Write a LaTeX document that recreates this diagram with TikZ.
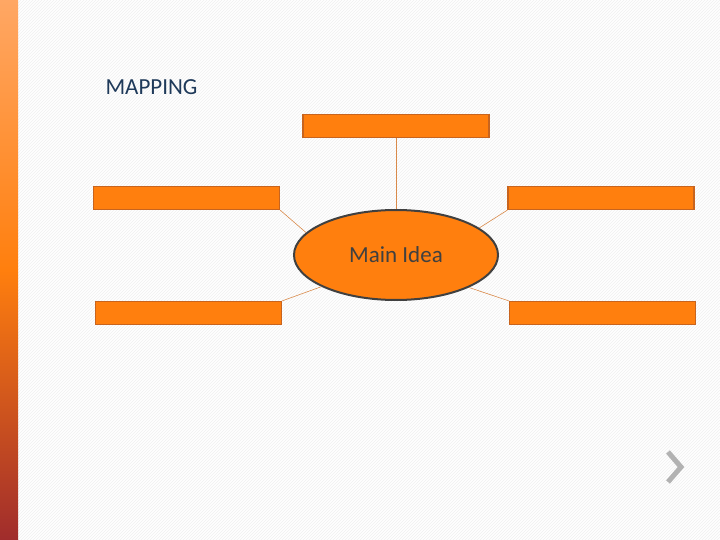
\documentclass[tikz,border=0pt]{standalone}
\usepackage{fontspec}
\setmainfont{Carlito}
\usetikzlibrary{shapes.geometric,patterns}
\definecolor{org}{HTML}{FF7F0E}
\definecolor{orgline}{HTML}{C8641E}
\definecolor{conn}{HTML}{D98A4A}
\definecolor{ttl}{HTML}{1F3A5A}
\definecolor{dk}{HTML}{404040}
\definecolor{bartop}{HTML}{FFA764}
\definecolor{barmid}{HTML}{FF7F0E}
\definecolor{barbot}{HTML}{A02C2C}
\tikzset{
  bar/.style={draw=orgline, line width=1.2pt, fill=org, minimum width=186pt, minimum height=23pt, inner sep=0pt},
  link/.style={draw=conn, line width=0.6pt}
}
\begin{document}
\begin{tikzpicture}[x=1pt,y=-1pt]
\useasboundingbox (0,0) rectangle (720,540);
\fill[white] (0,0) rectangle (720,540);
\fill[pattern=north east lines, pattern color=gray!12] (18,0) rectangle (720,540);
\shade[top color=bartop, bottom color=barbot, middle color=barmid] (0,0) rectangle (18,540);
\node[anchor=west, text=ttl, font=\fontsize{23}{26}\selectfont] (title) at (102,87) {MAPPING};
\node[bar] (t) at (396,126) {};
\node[bar] (lu) at (186.5,198) {};
\node[bar] (ru) at (601,198) {};
\node[bar] (ll) at (188.5,313) {};
\node[bar] (rl) at (602.5,313) {};
\node[ellipse, draw=dk, line width=2pt, fill=org, minimum width=204pt, minimum height=90pt, inner sep=0pt, text=dk, font=\fontsize{23}{26}\selectfont] (m) at (396,255) {Main Idea};
\draw[link] (t.south) -- (m.north);
\draw[link] (lu.south east) -- (m.166);
\draw[link] (ru.south west) -- (m.18);
\draw[link] (ll.north east) -- (m.203);
\draw[link] (rl.north west) -- (m.336);
\draw[gray!60, line width=5pt, line join=miter] (668,452) coordinate (c1) -- (681,467) coordinate (c2) -- (668,482) coordinate (c3);
\end{tikzpicture}
\end{document}
